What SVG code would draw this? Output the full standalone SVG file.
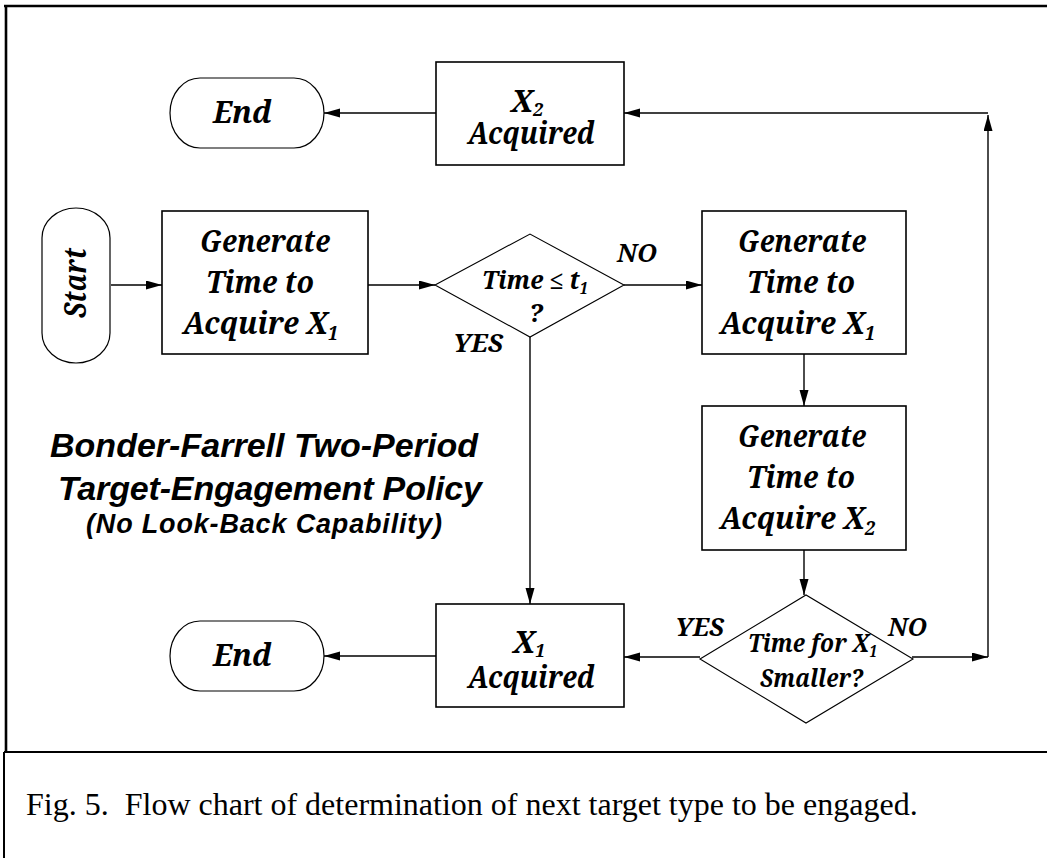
<svg xmlns="http://www.w3.org/2000/svg" width="1047" height="858" viewBox="0 0 1047 858">
<style>
  .frame{stroke:#000;fill:none}
  .box{fill:#fff;stroke:#000;stroke-width:1.6}
  .pill{fill:#fff;stroke:#000;stroke-width:1.2}
  .dia{fill:#fff;stroke:#000;stroke-width:1.1}
  .conn path{fill:none;stroke:#000;stroke-width:1.4}
  .title{font-family:"Liberation Sans",Arial,sans-serif;font-weight:bold;font-style:italic;fill:#000}
  .cap{font-family:"Liberation Serif","Times New Roman",serif;font-size:32px;fill:#000;white-space:pre}
  .n{font-family:"Noto Serif";font-size:30px;font-weight:bold;font-style:italic;fill:#000}
  .s{font-family:"Noto Serif";font-size:26px;font-weight:bold;font-style:italic;fill:#000}
</style>
<defs>
  <marker id="ah" markerUnits="userSpaceOnUse" markerWidth="18" markerHeight="10" refX="16" refY="4.5" orient="auto">
    <path d="M0,0 L16,4.5 L0,9 z" fill="#000"/>
  </marker>
</defs>
<rect width="1047" height="858" fill="#fff"/>
<g id="frame">
  <path class="frame" d="M4,6 H1047" stroke-width="2.6"/>
  <path class="frame" d="M6,6 V752" stroke-width="2.6"/>
  <path class="frame" d="M4,752 H1047" stroke-width="2.2"/>
  <path class="frame" d="M4,752 V858" stroke-width="2"/>
</g>
<g class="conn" id="connectors">
  <path d="M111,285 H162" marker-end="url(#ah)"/>
  <path d="M368,285 H435" marker-end="url(#ah)"/>
  <path d="M624,285 H702" marker-end="url(#ah)"/>
  <path d="M530,337 V604" marker-end="url(#ah)"/>
  <path d="M804,354 V406" marker-end="url(#ah)"/>
  <path d="M804,545 V595" marker-end="url(#ah)"/>
  <path d="M700,657 H624" marker-end="url(#ah)"/>
  <path d="M436,656 H324" marker-end="url(#ah)"/>
  <path d="M912,657 H988" marker-end="url(#ah)"/>
  <path d="M988,657 V115" marker-end="url(#ah)"/>
  <path d="M988,113 H624" marker-end="url(#ah)"/>
  <path d="M436,113 H324" marker-end="url(#ah)"/>
</g>
<g id="start">
  <rect class="pill" x="42" y="208" width="68" height="155" rx="34" ry="30"/>
  <text class="n" transform="translate(86,318) rotate(-90)" x="0" y="0" textLength="70" lengthAdjust="spacingAndGlyphs">Start</text>
</g>
<g id="gen1">
  <rect class="box" x="162" y="211" width="206" height="143"/>
  <text class="n" x="200" y="252" textLength="130" lengthAdjust="spacingAndGlyphs">Generate</text>
  <text class="n" x="206" y="293" textLength="108" lengthAdjust="spacingAndGlyphs">Time to</text>
  <text class="n" x="183" y="334" textLength="155" lengthAdjust="spacingAndGlyphs">Acquire X<tspan font-size="19" dy="6">1</tspan></text>
</g>
<g id="decision1">
  <polygon class="dia" points="435,285 530,234 624,285 530,337"/>
  <text class="s" x="482" y="289" textLength="106" lengthAdjust="spacingAndGlyphs">Time ≤ t<tspan font-size="16" dy="5">1</tspan></text>
  <text class="s" x="529" y="322">?</text>
</g>
<g id="label-no1"><text class="s" x="617" y="262" textLength="40" lengthAdjust="spacingAndGlyphs">NO</text></g>
<g id="label-yes1"><text class="s" x="453" y="352" textLength="50" lengthAdjust="spacingAndGlyphs">YES</text></g>
<g id="gen2">
  <rect class="box" x="702" y="211" width="204" height="143"/>
  <text class="n" x="738" y="252" textLength="128" lengthAdjust="spacingAndGlyphs">Generate</text>
  <text class="n" x="747" y="293" textLength="108" lengthAdjust="spacingAndGlyphs">Time to</text>
  <text class="n" x="720" y="334" textLength="155" lengthAdjust="spacingAndGlyphs">Acquire X<tspan font-size="19" dy="6">1</tspan></text>
</g>
<g id="gen3">
  <rect class="box" x="702" y="406" width="204" height="144"/>
  <text class="n" x="738" y="447" textLength="128" lengthAdjust="spacingAndGlyphs">Generate</text>
  <text class="n" x="747" y="488" textLength="108" lengthAdjust="spacingAndGlyphs">Time to</text>
  <text class="n" x="720" y="529" textLength="155" lengthAdjust="spacingAndGlyphs">Acquire X<tspan font-size="19" dy="6">2</tspan></text>
</g>
<g id="decision2">
  <polygon class="dia" points="700,659 806,595 913,659 806,723"/>
  <text class="s" x="748" y="652" textLength="129" lengthAdjust="spacingAndGlyphs">Time for X<tspan font-size="16" dy="5">1</tspan></text>
  <text class="s" x="760" y="687" textLength="103" lengthAdjust="spacingAndGlyphs">Smaller?</text>
</g>
<g id="label-yes2"><text class="s" x="675" y="636" textLength="49" lengthAdjust="spacingAndGlyphs">YES</text></g>
<g id="label-no2"><text class="s" x="888" y="636" textLength="39" lengthAdjust="spacingAndGlyphs">NO</text></g>
<g id="x2acq">
  <rect class="box" x="436" y="62" width="188" height="103"/>
  <text class="n" x="511" y="112">X<tspan font-size="18" dy="4">2</tspan></text>
  <text class="n" x="468" y="144" textLength="127" lengthAdjust="spacingAndGlyphs">Acquired</text>
</g>
<g id="x1acq">
  <rect class="box" x="436" y="604" width="188" height="103"/>
  <text class="n" x="513" y="653">X<tspan font-size="18" dy="4">1</tspan></text>
  <text class="n" x="468" y="688" textLength="127" lengthAdjust="spacingAndGlyphs">Acquired</text>
</g>
<g id="end1">
  <rect class="pill" x="170" y="78" width="154" height="70" rx="30" ry="35"/>
  <text class="n" x="213" y="123" textLength="59" lengthAdjust="spacingAndGlyphs">End</text>
</g>
<g id="end2">
  <rect class="pill" x="170" y="621" width="154" height="70" rx="30" ry="35"/>
  <text class="n" x="213" y="666" textLength="59" lengthAdjust="spacingAndGlyphs">End</text>
</g>
<g id="title">
  <text class="title" font-size="34" x="50" y="457" textLength="428">Bonder-Farrell Two-Period</text>
  <text class="title" font-size="34" x="58" y="500" textLength="424">Target-Engagement Policy</text>
  <text class="title" font-size="27" x="86" y="533" textLength="356">(No Look-Back Capability)</text>
</g>
<g id="caption">
  <text class="cap" x="26" y="815">Fig. 5.  Flow chart of determination of next target type to be engaged.</text>
</g>
</svg>
